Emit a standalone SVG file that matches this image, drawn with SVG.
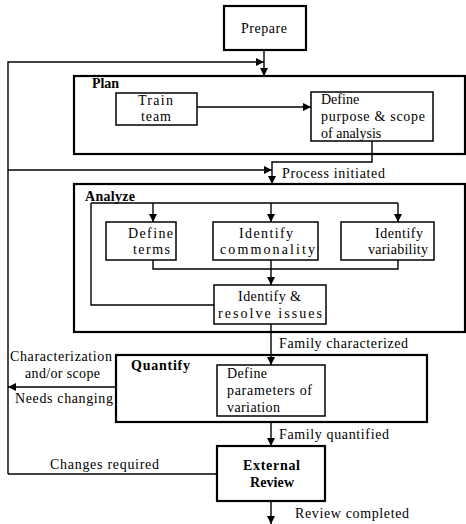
<svg xmlns="http://www.w3.org/2000/svg" width="466" height="524" viewBox="0 0 466 524">
<style>
text{font-family:"Liberation Serif","Times New Roman",serif;font-size:14px;fill:#000}
.b{font-weight:bold}
.m{text-anchor:middle}
.box{fill:#fff;stroke:#000;stroke-width:1.5}
.thick{fill:#fff;stroke:#000;stroke-width:2.2}
.c{fill:none;stroke:#000;stroke-width:1.4}
</style>
<defs>
<marker id="ah" viewBox="0 0 10 10" refX="10" refY="5" markerWidth="9" markerHeight="8" markerUnits="userSpaceOnUse" orient="auto">
<path d="M0,0 L10,5 L0,10 z" fill="#000"/>
</marker>
</defs>
<rect width="466" height="524" fill="#fff"/>
<g id="plan">
<rect class="thick" x="74" y="76" width="391" height="78"/>
<text class="b" x="92" y="88" textLength="27">Plan</text>
</g>
<g id="analyze">
<rect class="thick" x="74" y="184" width="391" height="148"/>
<text class="b" x="85" y="201" textLength="50">Analyze</text>
</g>
<g id="quantify">
<rect class="thick" x="116" y="355" width="311" height="67"/>
<text class="b" x="131" y="370" textLength="59">Quantify</text>
</g>
<g id="connectors">
<path class="c" d="M264,50 V76" marker-end="url(#ah)"/>
<path class="c" d="M8,474 V62 H264" marker-end="url(#ah)"/>
<path class="c" d="M197,107 H311" marker-end="url(#ah)"/>
<path class="c" d="M372,141 V162 H272 V184" marker-end="url(#ah)"/>
<path class="c" d="M8,170 H272" marker-end="url(#ah)"/>
<path class="c" d="M91,203 H398"/>
<path class="c" d="M153,203 V222" marker-end="url(#ah)"/>
<path class="c" d="M271,203 V222" marker-end="url(#ah)"/>
<path class="c" d="M398,203 V222" marker-end="url(#ah)"/>
<path class="c" d="M91,203 V305 H214"/>
<path class="c" d="M153,260 V269 H398 V260"/>
<path class="c" d="M271,260 V285" marker-end="url(#ah)"/>
<path class="c" d="M271,324 V365" marker-end="url(#ah)"/>
<path class="c" d="M116,387 H8" marker-end="url(#ah)"/>
<path class="c" d="M271,422 V446" marker-end="url(#ah)"/>
<path class="c" d="M217,474 H8"/>
<path class="c" d="M271,501 V524" marker-end="url(#ah)"/>
</g>
<g id="prepare">
<rect class="thick" x="224" y="6" width="82" height="44"/>
<text x="241" y="33" textLength="46">Prepare</text>
</g>
<g id="train-team">
<rect class="box" x="116" y="93" width="81" height="32"/>
<text x="138" y="105" textLength="35">Train</text>
<text x="141" y="121" textLength="30">team</text>
</g>
<g id="define-purpose">
<rect class="box" x="311" y="92" width="122" height="49"/>
<text x="321" y="104">Define</text>
<text x="321" y="121" textLength="104">purpose &amp; scope</text>
<text x="321" y="138">of analysis</text>
</g>
<g id="define-terms">
<rect class="box" x="106" y="222" width="70" height="38"/>
<text x="128" y="238" textLength="45">Define</text>
<text x="133" y="254" textLength="37">terms</text>
</g>
<g id="identify-commonality">
<rect class="box" x="213" y="222" width="105" height="38"/>
<text x="239" y="238" textLength="54">Identify</text>
<text x="220" y="254" textLength="95">commonality</text>
</g>
<g id="identify-variability">
<rect class="box" x="341" y="222" width="93" height="38"/>
<text x="375" y="238" textLength="48">Identify</text>
<text x="368" y="254" textLength="60">variability</text>
</g>
<g id="resolve-issues">
<rect class="box" x="214" y="285" width="112" height="39"/>
<text x="238" y="301" textLength="63">Identify &amp;</text>
<text x="218" y="318" textLength="104">resolve issues</text>
</g>
<g id="define-parameters">
<rect class="box" x="217" y="365" width="108" height="51"/>
<text x="227" y="378" textLength="40">Define</text>
<text x="227" y="395" textLength="85">parameters of</text>
<text x="227" y="412" textLength="53">variation</text>
</g>
<g id="external-review">
<rect class="thick" x="217" y="446" width="108" height="55"/>
<text class="b" x="243" y="470" textLength="57">External</text>
<text class="b" x="250" y="487" textLength="44">Review</text>
</g>
<g id="labels">
<text x="282" y="178" textLength="103">Process initiated</text>
<text x="279" y="348" textLength="129">Family characterized</text>
<text x="10" y="361" textLength="102">Characterization</text>
<text x="25" y="378" textLength="75">and/or scope</text>
<text x="15" y="403" textLength="98">Needs changing</text>
<text x="279" y="439" textLength="110">Family quantified</text>
<text x="50" y="469" textLength="109">Changes required</text>
<text x="295" y="518" textLength="114">Review completed</text>
</g>
</svg>
